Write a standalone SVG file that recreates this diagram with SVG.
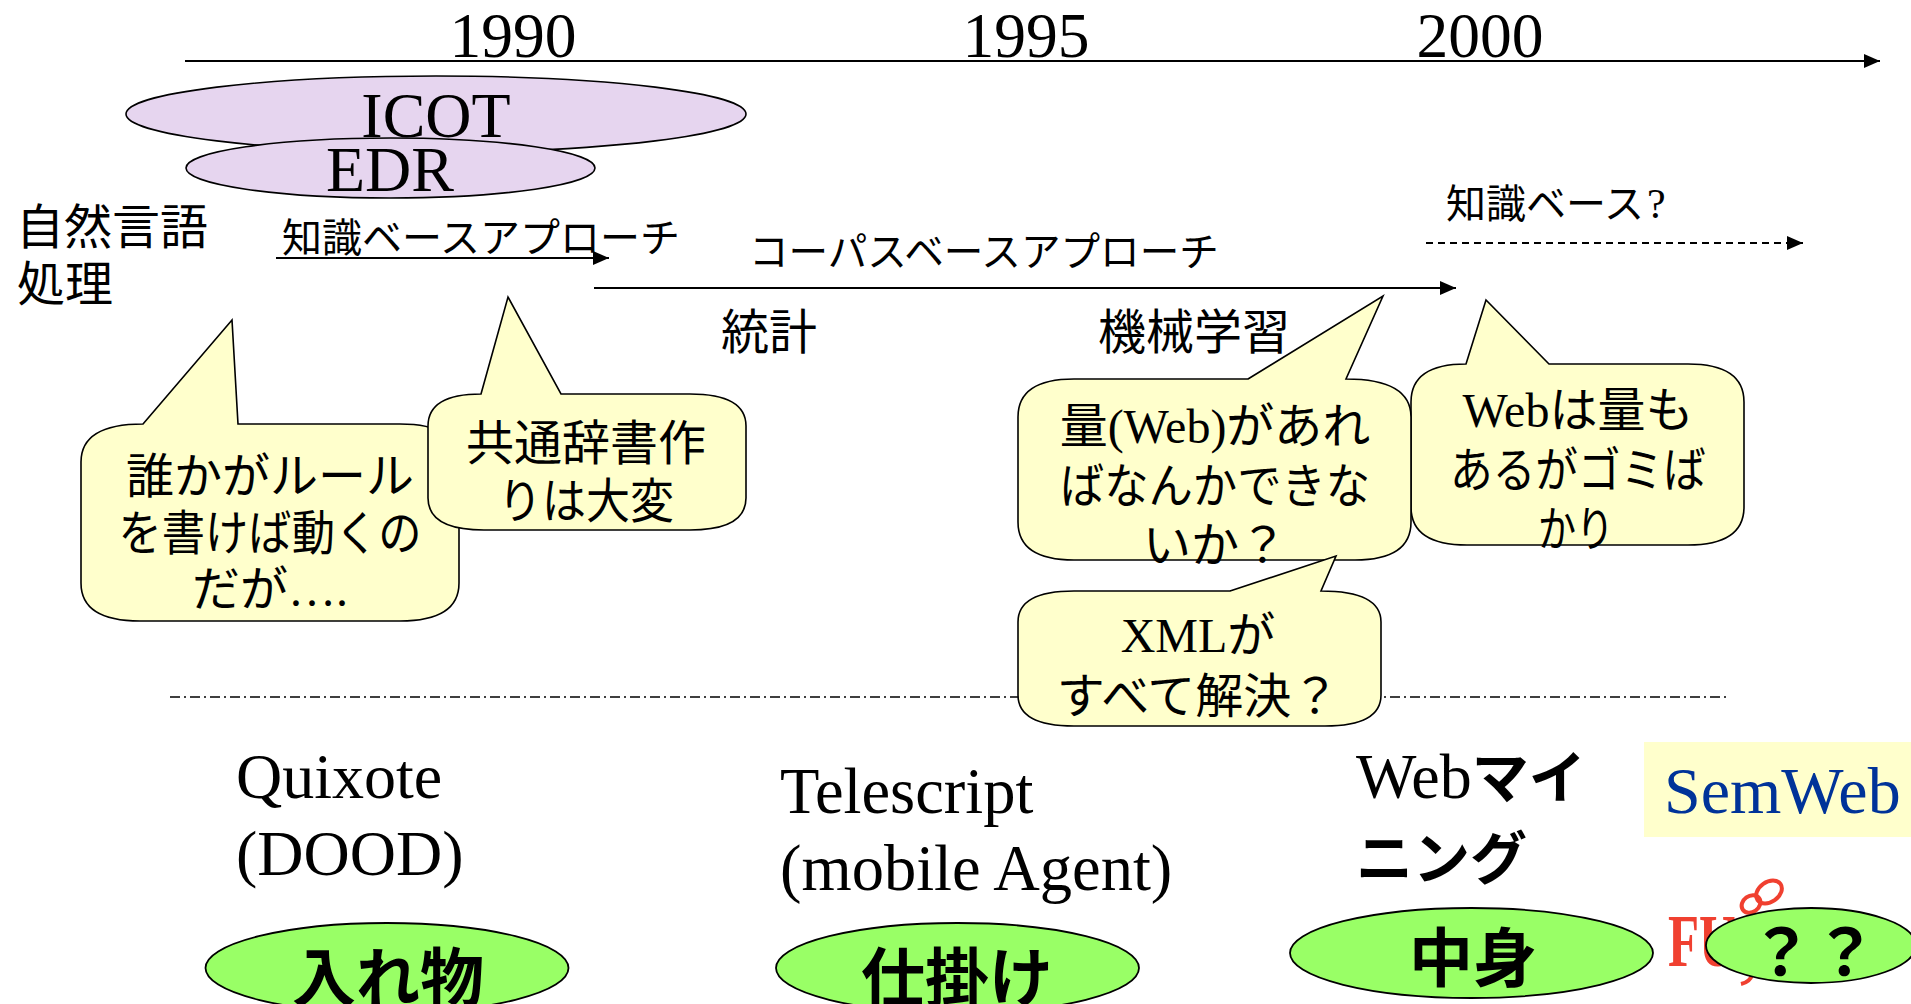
<svg xmlns="http://www.w3.org/2000/svg" width="1911" height="1004" viewBox="0 0 1911 1004">
<style>
text{font-family:"Liberation Serif","Noto Sans CJK JP",serif;fill:#000}
.y{font-size:63.500px;text-anchor:middle}
.m{font-size:48px}
.s{font-size:40px}
.c{font-size:48px;text-anchor:middle}
.l{font-size:64px}
.b{font-size:64px;font-weight:bold;text-anchor:middle}
.call{fill:#ffffcc;stroke:#000;stroke-width:1.6}
.pur{fill:#e6d5ef;stroke:#000;stroke-width:1.6}
.grn{fill:#99ff66;stroke:#000;stroke-width:1.8}
.ln{fill:none;stroke:#000;stroke-width:2}
.red{fill:none;stroke:#f04030;stroke-width:4}
</style>
<defs>
<marker id="a" markerUnits="userSpaceOnUse" markerWidth="16" markerHeight="14" refX="16" refY="7" orient="auto"><path d="M0 0L16 7L0 14Z" fill="#000"/></marker>
</defs>
<rect width="1911" height="1004" fill="#fff"/>
<g id="connectors">
<path class="ln" d="M185 61H1880" marker-end="url(#a)"/>
<path class="ln" d="M276 258H609" marker-end="url(#a)"/>
<path class="ln" d="M594 288H1456" marker-end="url(#a)"/>
<path class="ln" stroke-dasharray="7 5" d="M1426 243H1803" marker-end="url(#a)"/>
<path class="ln" style="stroke-width:1.5" stroke-dasharray="10 4 2 4" d="M170 697H1729"/>
</g>
<g id="years">
<text class="y" x="513" y="57">1990</text>
<text class="y" x="1026" y="57">1995</text>
<text class="y" x="1480" y="57">2000</text>
</g>
<g id="icot"><ellipse class="pur" cx="436" cy="114" rx="310" ry="38"/><text class="l" x="436" y="137" text-anchor="middle">ICOT</text></g>
<g id="edr"><ellipse class="pur" cx="390.500" cy="168" rx="204.500" ry="30"/><text class="l" x="390" y="191" text-anchor="middle">EDR</text></g>
<g id="labels">
<text class="m" x="16" y="244">自然言語</text>
<text class="m" x="17" y="301">処理</text>
<text class="s" x="282" y="252">知識ベースアプローチ</text>
<text x="749" y="266" font-size="39.600">コーパスベースアプローチ</text>
<text class="s" x="1446" y="218">知識ベース<tspan dx="3" font-size="42">?</tspan></text>
<text class="m" x="721" y="349">統計</text>
<text class="m" x="1098" y="349">機械学習</text>
</g>
<g id="callout-rule">
<path class="call" d="M143 424L232 320L238 424H400Q459 424 459 462V583Q459 621 400 621H140Q81 621 81 583V462Q81 424 143 424Z"/>
<text class="c" x="270" y="493">誰かがルール</text><text class="c" x="270" y="550" textLength="303" lengthAdjust="spacingAndGlyphs">を書けば動くの</text><text class="c" x="270" y="606">だが….</text>
</g>
<g id="callout-dict">
<path class="call" d="M481 394L508 297L561 394H690Q746 394 746 426V498Q746 530 690 530H484Q428 530 428 498V426Q428 394 481 394Z"/>
<text class="c" x="586" y="460">共通辞書作</text><text class="c" x="586" y="518" textLength="176" lengthAdjust="spacingAndGlyphs">りは大変</text>
</g>
<g id="callout-web">
<path class="call" d="M1466 364L1486 300L1549 364H1688Q1744 364 1744 402V507Q1744 545 1688 545H1467Q1411 545 1411 507V402Q1411 364 1466 364Z"/>
<text class="c" x="1578" y="427">Webは量も</text><text class="c" x="1578" y="487" textLength="256" lengthAdjust="spacingAndGlyphs">あるがゴミば</text><text class="c" x="1576" y="546" textLength="76" lengthAdjust="spacingAndGlyphs">かり</text>
</g>
<g id="callout-amount">
<path class="call" d="M1248 379L1383 296L1346 379Q1411 379 1411 417V522Q1411 560 1355 560H1074Q1018 560 1018 522V417Q1018 379 1074 379Z"/>
<text class="c" x="1215" y="443">量(Web)があれ</text><text class="c" x="1215" y="503" textLength="310" lengthAdjust="spacingAndGlyphs">ばなんかできな</text><text class="c" x="1215" y="562">いか？</text>
</g>
<g id="callout-xml">
<path class="call" d="M1230 591L1336 556L1321 591Q1381 591 1381 622V695Q1381 726 1325 726H1074Q1018 726 1018 695V622Q1018 591 1074 591Z"/>
<text class="c" x="1198" y="652">XMLが</text><text class="c" x="1198" y="713">すべて解決？</text>
</g>
<g id="quixote"><text class="l" x="236" y="798">Quixote</text><text class="l" x="236" y="875">(DOOD)</text></g>
<g id="telescript"><text x="780" y="813" font-size="64.500">Telescript</text><text x="780" y="890" font-size="64.500">(mobile Agent)</text></g>
<g id="webmining"><text class="l" x="1356" y="798">Web<tspan font-size="57" font-weight="bold">マイ</tspan></text><text x="1356" y="879" font-size="57" font-weight="bold">ニング</text></g>
<g id="semweb"><rect x="1644" y="742" width="267" height="95" fill="#ffffcc"/><text x="1664" y="813" font-size="66" style="fill:#003399">SemWeb</text></g>
<g id="fujitsu">
<text x="1668" y="966" font-size="74" font-weight="bold" textLength="212" lengthAdjust="spacingAndGlyphs" style="fill:#f04030">FUJITSU</text>
<ellipse class="red" cx="1769" cy="892" rx="14" ry="10" transform="rotate(-35 1769 892)"/>
<ellipse class="red" cx="1751" cy="904" rx="10" ry="8" transform="rotate(-35 1751 904)"/>
<path class="red" d="M1752 975Q1750 982 1741 984"/>
</g>
<g id="container"><ellipse class="grn" cx="387" cy="968" rx="181.500" ry="45"/><text class="b" x="388" y="1001">入れ物</text></g>
<g id="mechanism"><ellipse class="grn" cx="957.500" cy="968" rx="181.500" ry="45"/><text class="b" x="957" y="1001">仕掛け</text></g>
<g id="content"><ellipse class="grn" cx="1471.500" cy="953" rx="181.500" ry="45"/><text class="b" x="1473" y="981">中身</text></g>
<g id="unknown"><ellipse class="grn" cx="1811" cy="945.500" rx="105" ry="37.500"/><text class="b" x="1813" y="975">？？</text></g>
</svg>
